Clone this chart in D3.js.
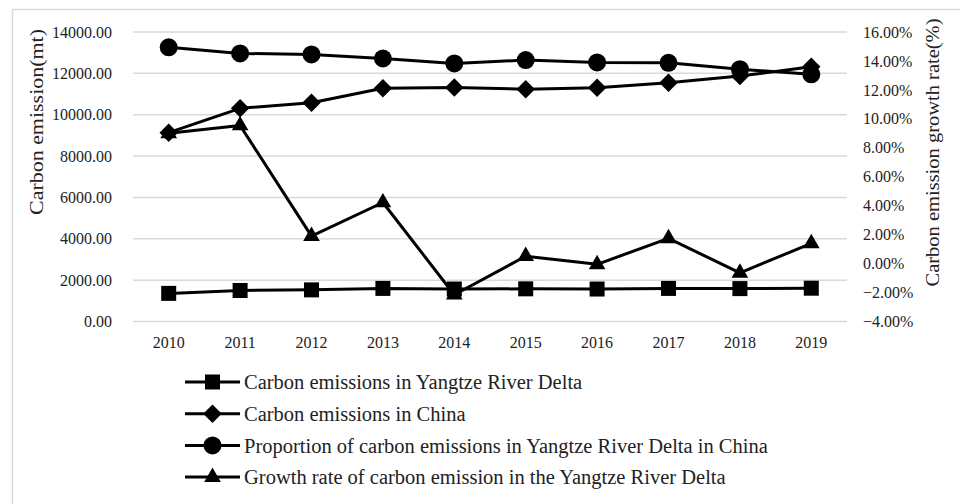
<!DOCTYPE html>
<html>
<head>
<meta charset="utf-8">
<script src="https://cdn.jsdelivr.net/npm/d3@7"></script>
<style>
  body { margin: 0; background: #fff; }
  svg text { font-family: "Palatino Linotype", "Book Antiqua", Palatino, "Liberation Serif", serif; fill: #222; }
</style>
</head>
<body>
<svg id="chart" width="960" height="504"></svg>
<script>
// values
const years = [2010, 2011, 2012, 2013, 2014, 2015, 2016, 2017, 2018, 2019];
const yrdEmissions = [1360, 1500, 1530, 1600, 1570, 1580, 1570, 1600, 1590, 1610];
const chinaEmissions = [9130, 10310, 10580, 11280, 11320, 11230, 11300, 11550, 11870, 12320];
const yrdShare = [14.94, 14.52, 14.45, 14.17, 13.83, 14.06, 13.90, 13.87, 13.43, 13.08];
const yrdGrowth = [9.00, 9.54, 1.90, 4.22, -2.15, 0.51, -0.05, 1.74, -0.64, 1.40];

const leftTicks = [0, 2000, 4000, 6000, 8000, 10000, 12000, 14000];
const rightTicks = [-4, -2, 0, 2, 4, 6, 8, 10, 12, 14, 16];

const series = [
    { name: "Carbon emissions in Yangtze River Delta", values: yrdEmissions, axis: "left", marker: "square" },
    { name: "Carbon emissions in China", values: chinaEmissions, axis: "left", marker: "diamond" },
    { name: "Proportion of carbon emissions in Yangtze River Delta in China", values: yrdShare, axis: "right", marker: "circle" },
    { name: "Growth rate of carbon emission in the Yangtze River Delta", values: yrdGrowth, axis: "right", marker: "triangle" },
];

const svg = d3.select("#chart");

// outer frame
svg.append("rect")
    .attr("x", 12.5).attr("y", 9.5)
    .attr("width", 960).attr("height", 520)
    .attr("fill", "none")
    .attr("stroke", "#d9d9d9")
    .attr("stroke-width", 1.5);

const x = d3.scaleBand().domain(years).range([133, 847]);
const yLeft = d3.scaleLinear().domain([0, 14000]).range([321.5, 32]);
const yRight = d3.scaleLinear().domain([-4, 16]).range([321.5, 32]);

// gridlines (left axis)
svg.append("g")
    .selectAll("line")
    .data(leftTicks)
    .enter().append("line")
        .attr("x1", 133).attr("x2", 847)
        .attr("y1", d => yLeft(d)).attr("y2", d => yLeft(d))
        .attr("stroke", "#d9d9d9")
        .attr("stroke-width", 1.5);

const fmtLeft = d3.format(".2f");
const fmtRight = d => d3.format(".2f")(d) + "%";

const leftAxis = svg.append("g")
    .attr("transform", "translate(133,0)")
    .call(d3.axisLeft(yLeft).tickValues(leftTicks).tickFormat(fmtLeft).tickSize(0).tickPadding(21));

const rightAxis = svg.append("g")
    .attr("transform", "translate(847,0)")
    .call(d3.axisRight(yRight).tickValues(rightTicks).tickFormat(fmtRight).tickSize(0).tickPadding(16));

const bottomAxis = svg.append("g")
    .attr("transform", "translate(0,321.5)")
    .call(d3.axisBottom(x).tickSize(0).tickPadding(15));

[leftAxis, rightAxis, bottomAxis].forEach(function(a) {
    a.select(".domain").remove();
    a.selectAll("text").style("font-size", "16px");
});

// axis titles (widths stretched a little to match the wider original face)
svg.append("text")
    .attr("transform", "translate(43,122) rotate(-90)")
    .attr("text-anchor", "middle")
    .attr("textLength", 186)
    .attr("lengthAdjust", "spacingAndGlyphs")
    .style("font-size", "19px")
    .text("Carbon emission(mt)");

svg.append("text")
    .attr("transform", "translate(939,152.5) rotate(-90)")
    .attr("text-anchor", "middle")
    .attr("textLength", 268)
    .attr("lengthAdjust", "spacingAndGlyphs")
    .style("font-size", "19px")
    .text("Carbon emission growth rate(%)");

function markerPath(type) {
    if (type == "square") return d3.symbol(d3.symbolSquare, 225)();
    if (type == "diamond") return d3.symbol(d3.symbolSquare, 170)();
    if (type == "circle") return d3.symbol(d3.symbolCircle, 254)();
    return d3.symbol(d3.symbolTriangle, 120)();
}

function drawMarker(g, type, cx, cy) {
    let rot = type == "diamond" ? " rotate(45)" : "";
    g.append("path")
        .attr("d", markerPath(type))
        .attr("transform", "translate(" + cx + "," + cy + ")" + rot)
        .attr("fill", "#000");
}

const lines = svg.append("g");

series.forEach(function(s) {
    const yScale = s.axis == "left" ? yLeft : yRight;
    const cx = (d, i) => x(years[i]) + x.bandwidth() / 2;
    const line = d3.line()
        .x(cx)
        .y(d => yScale(d));

    const g = lines.append("g");
    g.append("path")
        .datum(s.values)
        .attr("d", line)
        .attr("fill", "none")
        .attr("stroke", "#000")
        .attr("stroke-width", 3)
        .attr("stroke-linejoin", "round");

    s.values.forEach(function(v, i) {
        drawMarker(g, s.marker, cx(v, i), yScale(v));
    });
});

// legend
const legend = svg.append("g");
series.forEach(function(s, i) {
    const ly = 382 + i * 31.7;
    const row = legend.append("g");
    row.append("line")
        .attr("x1", 185).attr("x2", 240)
        .attr("y1", ly).attr("y2", ly)
        .attr("stroke", "#000")
        .attr("stroke-width", 3);
    drawMarker(row, s.marker, 212.5, ly);
    row.append("text")
        .attr("x", 244)
        .attr("y", ly)
        .attr("dy", "0.35em")
        .style("font-size", "20.5px")
        .text(s.name);
});
</script>
</body>
</html>
